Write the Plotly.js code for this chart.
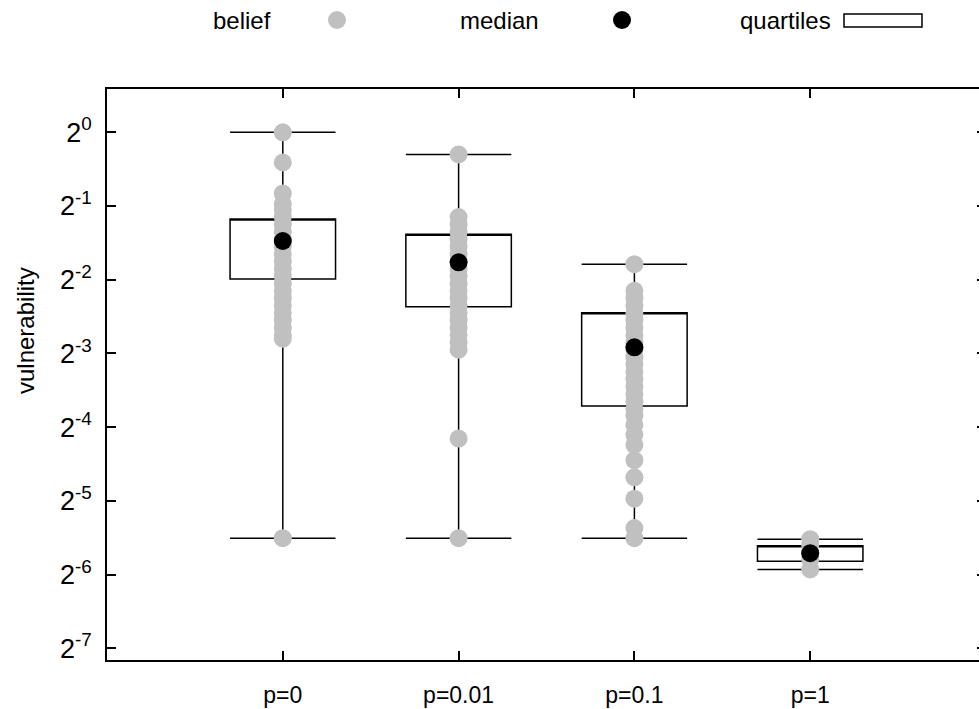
<!DOCTYPE html>
<html>
<head>
<meta charset="utf-8">
<script src="https://cdn.plot.ly/plotly-3.0.1.min.js"></script>
<style>
html, body { margin: 0; padding: 0; overflow: hidden; background: #fff; }
#chart { width: 988px; height: 709px; }
</style>
</head>
<body>
<div id="chart"></div>
<script>
// Categories
const categories = ["p=0", "p=0.01", "p=0.1", "p=1"];
const catPos = [1, 2, 3, 4];

// Individual belief values per category
const beliefP0 = [1.0, 0.7526, 0.5625, 0.5105, 0.4830, 0.4506, 0.4204, 0.3923, 0.3660,
  0.3415, 0.3186, 0.2973, 0.2774, 0.2588, 0.2415, 0.2253, 0.2102, 0.1961, 0.1830,
  0.1708, 0.1593, 0.1487, 0.1436, 0.0220];
const beliefP001 = [0.8123, 0.4506, 0.4204, 0.3923, 0.3660, 0.3415, 0.3186, 0.2973,
  0.2774, 0.2588, 0.2415, 0.2253, 0.2102, 0.1961, 0.1830, 0.1708, 0.1593, 0.1487,
  0.1387, 0.1294, 0.0561, 0.0220];
const beliefP01 = [0.2892, 0.2253, 0.2102, 0.1961, 0.1830, 0.1708, 0.1593, 0.1487,
  0.1387, 0.1294, 0.1207, 0.1127, 0.1051, 0.0981, 0.0915, 0.0854, 0.0797, 0.0743,
  0.0698, 0.0638, 0.0583, 0.0529, 0.0458, 0.0390, 0.0319, 0.0242, 0.0220];
const beliefP1 = [0.0218, 0.0206, 0.0192, 0.0180, 0.0164];

// Summary statistics per category
const minVals    = [0.0220, 0.0220, 0.0220, 0.0164];
const q1Vals     = [0.2517, 0.1939, 0.0762, 0.0177];
const medianVals = [0.3597, 0.2945, 0.1324, 0.0191];
const q3Vals     = [0.4426, 0.3830, 0.1833, 0.0205];
const maxVals    = [1.0,    0.8123, 0.2892, 0.0218];

// Y tick values and labels
const yTickVals = [1, 0.5, 0.25, 0.125, 0.0625, 0.03125, 0.015625, 0.0078125];
const yTickText = ["2<sup>0</sup>", "2<sup>-1</sup>", "2<sup>-2</sup>", "2<sup>-3</sup>",
  "2<sup>-4</sup>", "2<sup>-5</sup>", "2<sup>-6</sup>", "2<sup>-7</sup>"];

const FONT = "Liberation Sans, Arial, Helvetica, sans-serif";
const GREY = "#c0c0c0";
const FS = 24;

const beliefSets = [beliefP0, beliefP001, beliefP01, beliefP1];
const traces = [];
beliefSets.forEach(function (vals, i) {
  traces.push({
    type: "scatter", mode: "markers",
    x: vals.map(function () { return catPos[i]; }),
    y: vals,
    marker: { color: GREY, size: 18, line: { width: 0 } },
    showlegend: false, hoverinfo: "skip"
  });
});

traces.push({
  type: "candlestick",
  x: catPos,
  open: q1Vals, close: q3Vals, high: maxVals, low: minVals,
  whiskerwidth: 1,
  increasing: { line: { color: "#000", width: 1.5 }, fillcolor: "rgba(0,0,0,0)" },
  decreasing: { line: { color: "#000", width: 1.5 }, fillcolor: "rgba(0,0,0,0)" },
  showlegend: false, hoverinfo: "skip"
});

traces.push({
  type: "scatter", mode: "markers",
  x: catPos, y: medianVals,
  marker: { color: "#000", size: 18, line: { width: 0 } },
  showlegend: false, hoverinfo: "skip"
});

// paper coordinate helpers (plot area: left 107, right 986, top 89, bottom 660)
const PL = 107, PW = 879, PB = 660, PH = 571;
function px(x) { return (x - PL) / PW; }
function py(y) { return (PB - y) / PH; }

const legendFont = { family: FONT, size: FS, color: "#000" };

const layout = {
  width: 988, height: 709,
  margin: { l: 107, r: 2, t: 89, b: 49 },
  paper_bgcolor: "#fff", plot_bgcolor: "#fff",
  showlegend: false,
  boxgap: 0.4, boxgroupgap: 0,
  font: { family: FONT, size: FS, color: "#000" },
  xaxis: {
    range: [0, 5],
    tickvals: catPos, ticktext: categories,
    ticks: "inside", ticklen: 9, tickwidth: 1.5, tickcolor: "#000",
    showline: true, linewidth: 1.5, linecolor: "#000", mirror: "ticks",
    showgrid: false, zeroline: false,
    ticklabelstandoff: 14,
    tickfont: { family: FONT, size: 23, color: "#000" },
    rangeslider: { visible: false },
    fixedrange: true
  },
  yaxis: {
    type: "log",
    range: [-2.1551, 0.1767],
    tickvals: yTickVals, ticktext: yTickText,
    ticks: "inside", ticklen: 9, tickwidth: 1.5, tickcolor: "#000",
    showline: true, linewidth: 1.5, linecolor: "#000", mirror: "ticks",
    showgrid: false, zeroline: false,
    ticklabelstandoff: 8,
    tickfont: { family: FONT, size: 27, color: "#000" },
    fixedrange: true
  },
  annotations: [
    { xref: "paper", yref: "paper", x: px(25), y: py(331), text: "vulnerability",
      textangle: -90, showarrow: false, font: legendFont, xanchor: "center", yanchor: "middle" },
    { xref: "paper", yref: "paper", x: px(273), y: py(20), text: "belief",
      showarrow: false, font: legendFont, xanchor: "right", yanchor: "middle" },
    { xref: "paper", yref: "paper", x: px(541), y: py(20), text: "median",
      showarrow: false, font: legendFont, xanchor: "right", yanchor: "middle" },
    { xref: "paper", yref: "paper", x: px(833), y: py(20), text: "quartiles",
      showarrow: false, font: legendFont, xanchor: "right", yanchor: "middle" }
  ],
  shapes: [
    { type: "circle", xref: "paper", yref: "paper", xsizemode: "pixel", ysizemode: "pixel",
      xanchor: px(337), yanchor: py(20), x0: -9, x1: 9, y0: -9, y1: 9,
      fillcolor: GREY, line: { width: 0 } },
    { type: "circle", xref: "paper", yref: "paper", xsizemode: "pixel", ysizemode: "pixel",
      xanchor: px(622), yanchor: py(20), x0: -9, x1: 9, y0: -9, y1: 9,
      fillcolor: "#000", line: { width: 0 } },
    { type: "rect", xref: "paper", yref: "paper",
      x0: px(844), x1: px(922), y0: py(27), y1: py(14),
      fillcolor: "#fff", line: { color: "#000", width: 1.5 } }
  ]
};

Plotly.newPlot("chart", traces, layout, { displayModeBar: false }).then(function (gd) {
  // give every SVG text an explicit font-size attribute as well as the inline style
  gd.querySelectorAll("text").forEach(function (t) {
    const fsz = window.getComputedStyle(t).fontSize;
    if (fsz) t.setAttribute("font-size", fsz);
  });
});
</script>
</body>
</html>
